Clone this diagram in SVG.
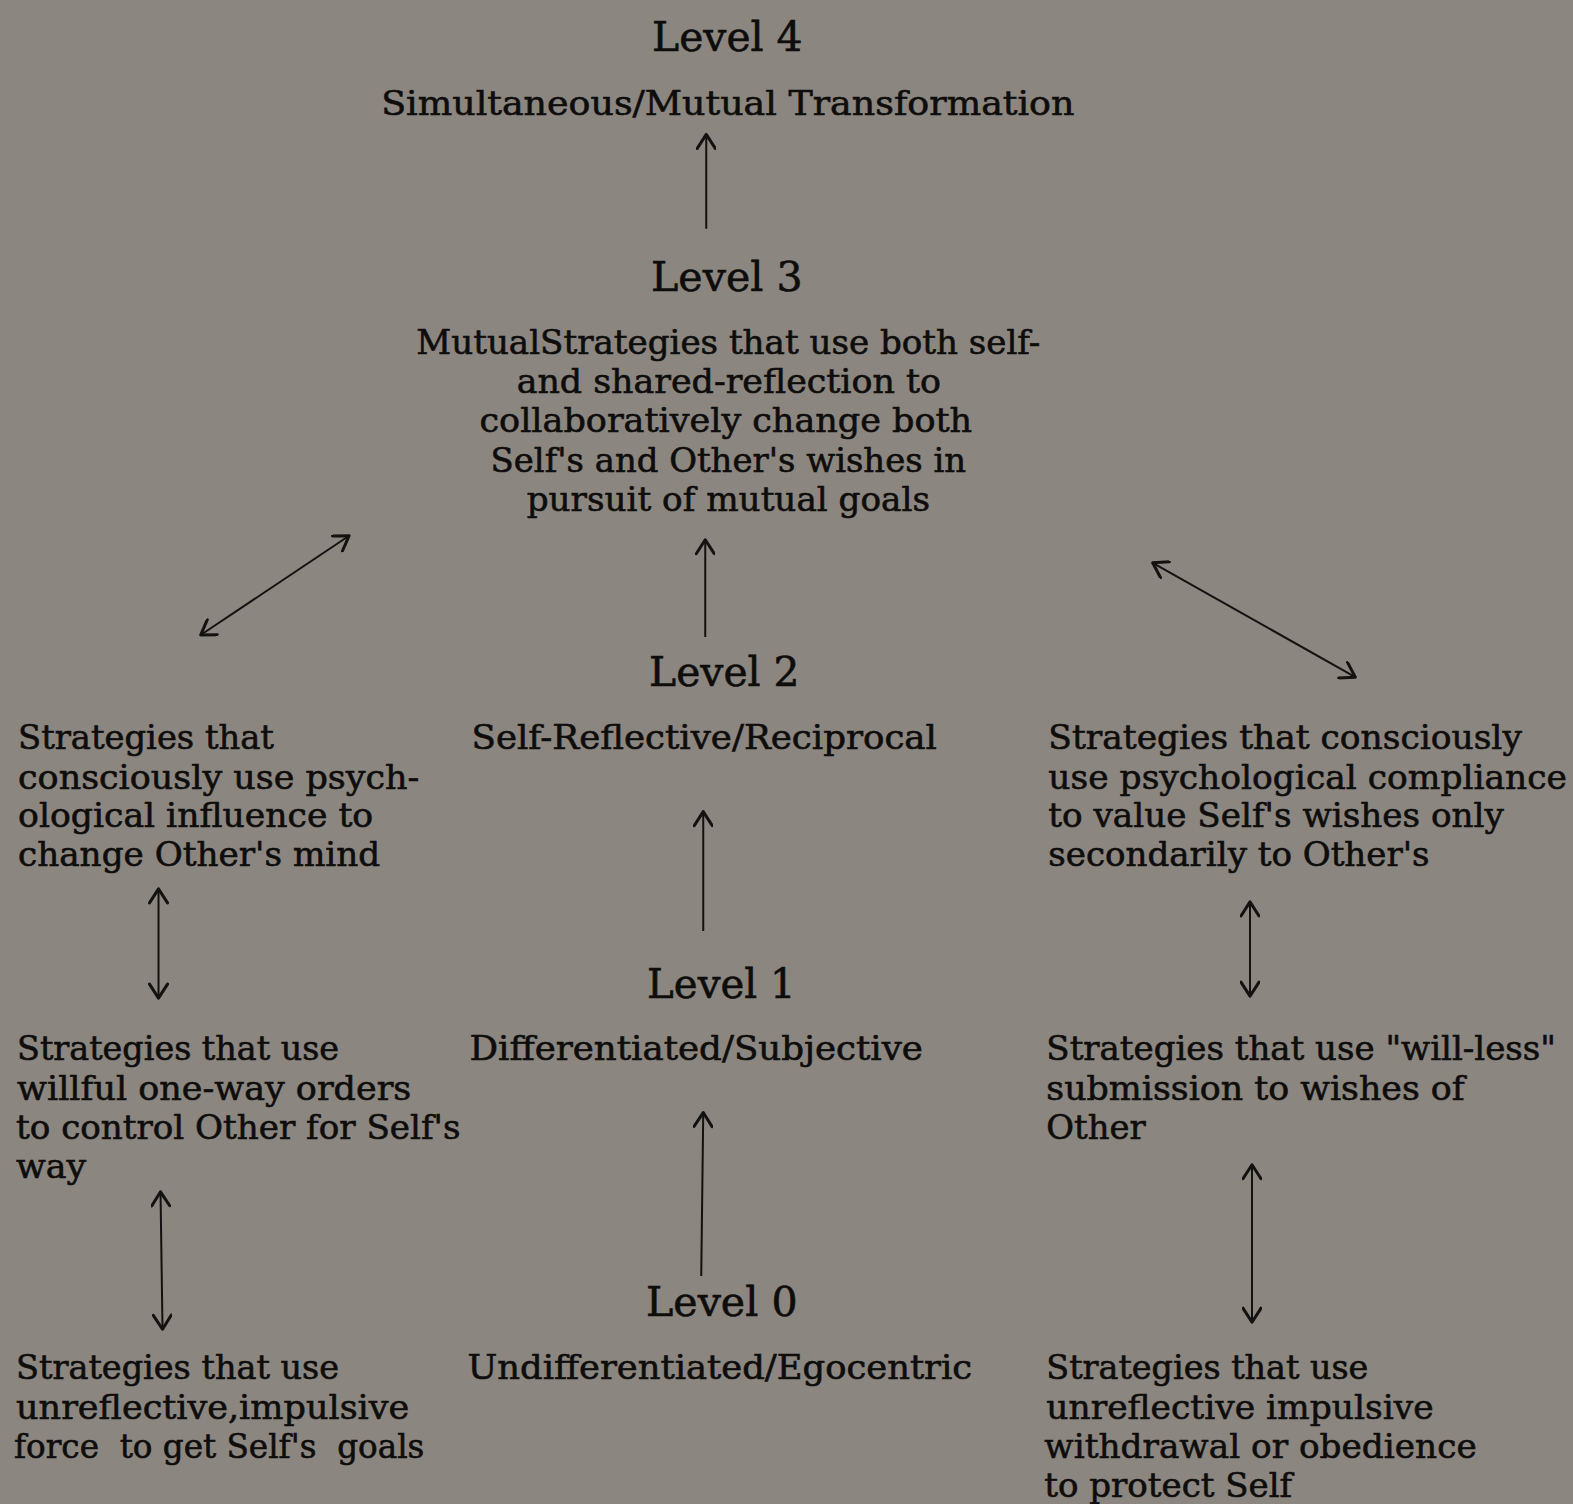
<svg xmlns="http://www.w3.org/2000/svg" width="1573" height="1504" viewBox="0 0 1573 1504">
<style>
text{font-family:"DejaVu Serif","Liberation Serif",serif;fill:#0e0d0c;stroke:#0e0d0c;stroke-width:0.6}
.b{font-size:33px}
.l{font-size:40px}
.c line{stroke:#141211;stroke-width:2;fill:none}
</style>
<defs>
<marker id="ah" viewBox="-16 -10 18 20" markerWidth="18" markerHeight="20" refX="0" refY="0" orient="auto-start-reverse" markerUnits="userSpaceOnUse">
<path d="M-14,-9 L0,0 L-14,9" fill="none" stroke="#141211" stroke-width="3" stroke-linecap="round" stroke-linejoin="round"/>
</marker>
</defs>
<rect width="1573" height="1504" fill="#8b8680"/>
<g transform="scale(1.0032)">
<g id="level4">
<text class="l" x="650" y="51" textLength="150" lengthAdjust="spacingAndGlyphs">Level 4</text>
<text class="b" x="380" y="115" textLength="691" lengthAdjust="spacingAndGlyphs">Simultaneous/Mutual Transformation</text>
</g>
<g id="level3">
<text class="l" x="649" y="290" textLength="151" lengthAdjust="spacingAndGlyphs">Level 3</text>
<text class="b" x="415" y="353" textLength="622" lengthAdjust="spacingAndGlyphs">MutualStrategies that use both self-</text>
<text class="b" x="515" y="392" textLength="423" lengthAdjust="spacingAndGlyphs">and shared-reflection to</text>
<text class="b" x="478" y="431" textLength="491" lengthAdjust="spacingAndGlyphs">collaboratively change both</text>
<text class="b" x="489" y="470" textLength="474" lengthAdjust="spacingAndGlyphs">Self's and Other's wishes in</text>
<text class="b" x="525" y="509" textLength="402" lengthAdjust="spacingAndGlyphs">pursuit of mutual goals</text>
</g>
<g id="level2">
<text class="l" x="647" y="684" textLength="150" lengthAdjust="spacingAndGlyphs">Level 2</text>
<text class="b" x="470" y="747" textLength="464" lengthAdjust="spacingAndGlyphs">Self-Reflective/Reciprocal</text>
</g>
<g id="level2-left">
<text class="b" x="18" y="747" textLength="255" lengthAdjust="spacingAndGlyphs">Strategies that</text>
<text class="b" x="18" y="786" textLength="400" lengthAdjust="spacingAndGlyphs">consciously use psych-</text>
<text class="b" x="18" y="824" textLength="354" lengthAdjust="spacingAndGlyphs">ological influence to</text>
<text class="b" x="18" y="863" textLength="361" lengthAdjust="spacingAndGlyphs">change Other's mind</text>
</g>
<g id="level2-right">
<text class="b" x="1045" y="747" textLength="472" lengthAdjust="spacingAndGlyphs">Strategies that consciously</text>
<text class="b" x="1045" y="786" textLength="517" lengthAdjust="spacingAndGlyphs">use psychological compliance</text>
<text class="b" x="1045" y="824" textLength="454" lengthAdjust="spacingAndGlyphs">to value Self's wishes only</text>
<text class="b" x="1045" y="863" textLength="380" lengthAdjust="spacingAndGlyphs">secondarily to Other's</text>
</g>
<g id="level1">
<text class="l" x="645" y="995" textLength="148" lengthAdjust="spacingAndGlyphs">Level 1</text>
<text class="b" x="468" y="1057" textLength="452" lengthAdjust="spacingAndGlyphs">Differentiated/Subjective</text>
</g>
<g id="level1-left">
<text class="b" x="17" y="1057" textLength="321" lengthAdjust="spacingAndGlyphs">Strategies that use</text>
<text class="b" x="17" y="1096" textLength="393" lengthAdjust="spacingAndGlyphs">willful one-way orders</text>
<text class="b" x="16" y="1135" textLength="443" lengthAdjust="spacingAndGlyphs">to control Other for Self's</text>
<text class="b" x="16" y="1174" textLength="70" lengthAdjust="spacingAndGlyphs">way</text>
</g>
<g id="level1-right">
<text class="b" x="1043" y="1057" textLength="508" lengthAdjust="spacingAndGlyphs">Strategies that use "will-less"</text>
<text class="b" x="1043" y="1096" textLength="417" lengthAdjust="spacingAndGlyphs">submission to wishes of</text>
<text class="b" x="1043" y="1135" textLength="99" lengthAdjust="spacingAndGlyphs">Other</text>
</g>
<g id="level0">
<text class="l" x="644" y="1312" textLength="151" lengthAdjust="spacingAndGlyphs">Level 0</text>
<text class="b" x="466" y="1375" textLength="503" lengthAdjust="spacingAndGlyphs">Undifferentiated/Egocentric</text>
</g>
<g id="level0-left">
<text class="b" x="16" y="1375" textLength="322" lengthAdjust="spacingAndGlyphs">Strategies that use</text>
<text class="b" x="16" y="1414" textLength="392" lengthAdjust="spacingAndGlyphs">unreflective,impulsive</text>
<text class="b" x="14" y="1453" textLength="409" lengthAdjust="spacingAndGlyphs" xml:space="preserve">force  to get Self's  goals</text>
</g>
<g id="level0-right">
<text class="b" x="1043" y="1375" textLength="321" lengthAdjust="spacingAndGlyphs">Strategies that use</text>
<text class="b" x="1043" y="1414" textLength="386" lengthAdjust="spacingAndGlyphs">unreflective impulsive</text>
<text class="b" x="1041" y="1453" textLength="431" lengthAdjust="spacingAndGlyphs">withdrawal or obedience</text>
<text class="b" x="1041" y="1492" textLength="247" lengthAdjust="spacingAndGlyphs">to protect Self</text>
</g>
<g id="connectors" class="c">
<line x1="704" y1="228" x2="704" y2="134" marker-end="url(#ah)"/>
<line x1="703" y1="635" x2="703" y2="538" marker-end="url(#ah)"/>
<line x1="701" y1="928" x2="701" y2="809" marker-end="url(#ah)"/>
<line x1="699" y1="1272" x2="701" y2="1109" marker-end="url(#ah)"/>
<line x1="200" y1="633" x2="348" y2="534" marker-start="url(#ah)" marker-end="url(#ah)"/>
<line x1="1149" y1="561" x2="1351" y2="675" marker-start="url(#ah)" marker-end="url(#ah)"/>
<line x1="158" y1="886" x2="158" y2="995" marker-start="url(#ah)" marker-end="url(#ah)"/>
<line x1="160" y1="1188" x2="162" y2="1325" marker-start="url(#ah)" marker-end="url(#ah)"/>
<line x1="1246" y1="899" x2="1246" y2="993" marker-start="url(#ah)" marker-end="url(#ah)"/>
<line x1="1248" y1="1161" x2="1248" y2="1318" marker-start="url(#ah)" marker-end="url(#ah)"/>
</g>
</g>
</svg>
